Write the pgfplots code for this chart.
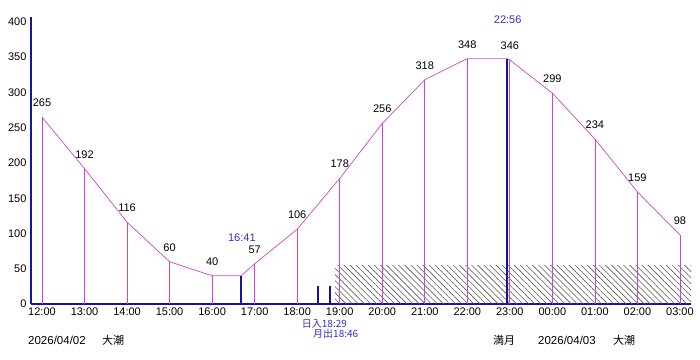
\documentclass[border=0pt]{standalone}
\usepackage{pgfplots}
\pgfplotsset{compat=1.18}
\usetikzlibrary{patterns.meta}
\usepackage{fontspec}
\setmainfont{Liberation Sans}
\newfontfamily\jp{Noto Sans CJK JP}
\definecolor{mag}{RGB}{204,68,204}
\definecolor{navyax}{RGB}{20,20,160}
\definecolor{lblblue}{RGB}{51,51,204}
\begin{document}
\begin{tikzpicture}[x=1pt,y=1pt]
\useasboundingbox (0,0) rectangle (700,359);
\begin{axis}[
  at={(31pt,55pt)}, anchor=south west,
  scale only axis, width=660pt, height=287pt,
  xmin=-0.2586, xmax=15.26, ymin=0, ymax=407,
  axis x line=bottom, axis y line=left,
  axis line style={-, navyax, line width=1.8pt},
  major tick length=0pt,
  ytick={0,50,...,400},
  xtick={0,1,...,15},
  xticklabels={12:00,13:00,14:00,15:00,16:00,17:00,18:00,19:00,20:00,21:00,22:00,23:00,00:00,01:00,02:00,03:00},
  /pgf/number format/assume math mode=true,
  ticklabel style={font=\fontsize{11}{12}\selectfont},
  yticklabel style={xshift=-1pt},
  xticklabel style={yshift=0pt},
  clip=false,
]
% hatched region
\addplot[draw=none, pattern={Lines[angle=-45,distance=4.3pt,line width=0.6pt]}, pattern color=black!65]
  coordinates {(6.89,0) (6.89,55.3) (15.26,55.3) (15.26,0)} \closedcycle;
% hourly vertical lines
\addplot[ycomb, mag, line width=0.7pt, no marks] coordinates {
 (0,265) (1,192) (2,116) (3,60) (4,40) (5,57) (6,106) (7,178) (8,256) (9,318) (10,348) (11,346) (12,299) (13,234) (14,159) (15,98)};
% tide curve
\addplot[mag, line width=0.7pt, no marks] coordinates {
 (0,265) (1,192) (2,116) (3,60) (4,40) (4.683,40) (5,57) (6,106) (7,178) (8,256) (9,318) (10,348) (10.933,348) (11,346) (12,299) (13,234) (14,159) (15,98)};
% low / high tide markers
\addplot[ycomb, navyax, line width=2.6pt, no marks] coordinates {(4.683,40) (10.933,348)};
% sunset / moonrise markers
\addplot[ycomb, navyax, line width=2.2pt, no marks] coordinates {(6.483,25.5) (6.767,25.5)};
% value labels
\foreach \xx/\yy in {0/265,1/192,2/116,3/60,4/40,5/57,6/106,7/178,8/256,9/318,10/348,11/346,12/299,13/234,14/159,15/98}{
  \edef\tmp{\noexpand\node[anchor=base, yshift=10.5pt, font=\noexpand\fontsize{11}{12}\noexpand\selectfont] at (axis cs:\xx,\yy) {\yy};}
  \tmp
}
\node[lblblue, font=\fontsize{11}{12}\selectfont] at (axis cs:4.70,93.6) {16:41};
\node[lblblue, font=\fontsize{11}{12}\selectfont] at (axis cs:10.95,403) {22:56};
\end{axis}
\node[lblblue, anchor=west, inner sep=0pt, font=\jp\fontsize{10}{12}\selectfont] at (301.7,35) {日入18:29};
\node[lblblue, anchor=west, inner sep=0pt, font=\jp\fontsize{10}{12}\selectfont] at (313,25) {月出18:46};
\node[anchor=west, inner sep=0pt, font=\fontsize{11.5}{12}\selectfont] at (28,19) {2026/04/02};
\node[anchor=west, inner sep=0pt, font=\jp\fontsize{11}{12}\selectfont] at (102,19) {大潮};
\node[anchor=west, inner sep=0pt, font=\jp\fontsize{11}{12}\selectfont] at (493,19) {満月};
\node[anchor=west, inner sep=0pt, font=\fontsize{11.5}{12}\selectfont] at (538,19) {2026/04/03};
\node[anchor=west, inner sep=0pt, font=\jp\fontsize{11}{12}\selectfont] at (613,19) {大潮};
\end{tikzpicture}
\end{document}
